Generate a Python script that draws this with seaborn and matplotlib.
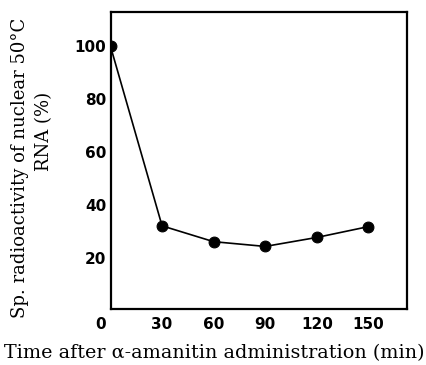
import matplotlib
matplotlib.use("Agg")
import matplotlib.pyplot as plt
import matplotlib.transforms as mtransforms
import seaborn as sns
import pandas as pd

# Time course of nuclear RNA radioactivity after alpha-amanitin
time_min = [0, 30, 60, 90, 120, 150]
activity_pct = [100, 32, 26, 24.2, 27.6, 31.7]
x_ticks = [0, 30, 60, 90, 120, 150]
y_ticks = [20, 40, 60, 80, 100]

df = pd.DataFrame({"time": time_min, "activity": activity_pct})

sns.set_style("white")
plt.rcParams["font.family"] = ["DejaVu Sans"]
plt.rcParams["text.color"] = "black"

W, H = 426, 365
fig = plt.figure(figsize=(W / 100, H / 100), dpi=100)
ax = fig.add_axes([110.5 / W, 1 - 309 / H, (407 - 110.5) / W, (309 - 12) / H])

sns.lineplot(data=df, x="time", y="activity", ax=ax, color="black",
             marker="o", markersize=7.8, markeredgecolor="black",
             linewidth=1.2, estimator=None)

ax.set_xlim(0, 172.5)
ax.set_ylim(0.5, 113)
ax.set_xticks(x_ticks)
ax.set_yticks(y_ticks)
ax.set_xticklabels([str(t) for t in x_ticks], fontweight="bold", fontsize=11, color="black")
ax.set_yticklabels([str(t) for t in y_ticks], fontweight="bold", fontsize=11, color="black")
ax.tick_params(direction="in", length=5, width=1.3, color="black", pad=6)
ax.tick_params(axis="y", pad=3)
ax.set_xlabel("")
ax.set_ylabel("")

# the zero label sits a little left of the origin
zero_lbl = ax.get_xticklabels()[0]
zero_lbl.set_transform(zero_lbl.get_transform() +
                       mtransforms.ScaledTranslation(-10 / 100, 0, fig.dpi_scale_trans))

for s in ax.spines.values():
    s.set_visible(True)
    s.set_color("black")
    s.set_linewidth(1.6)

serif = ["DejaVu Serif"]
fig.text(214 / W, 1 - 358 / H, "Time after \u03b1-amanitin administration (min)",
         family=serif, fontsize=13.8, ha="center", va="baseline", color="black")
fig.text(20 / W, 1 - 168 / H, "Sp. radioactivity of nuclear 50\u00b0C",
         family=serif, fontsize=13, ha="center", va="center", rotation=90, color="black")
fig.text(44 / W, 1 - 131 / H, "RNA (%)",
         family=serif, fontsize=13, ha="center", va="center", rotation=90, color="black")

fig.savefig("out.png", dpi=100)
